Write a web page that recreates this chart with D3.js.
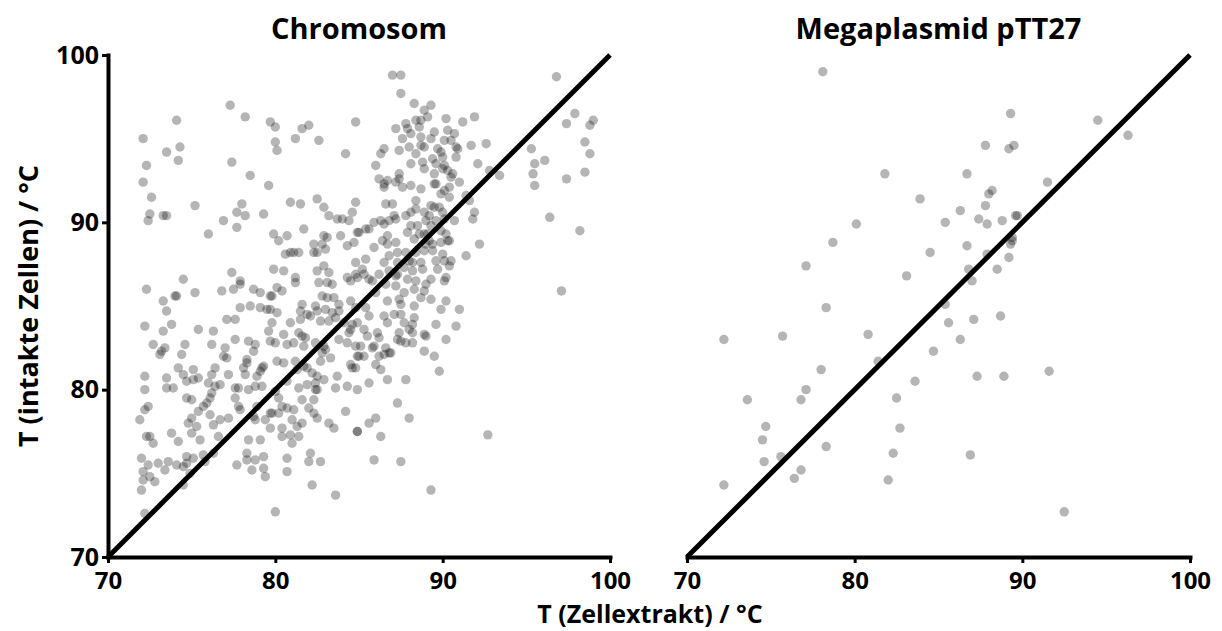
<!DOCTYPE html>
<html>
<head>
<meta charset="utf-8">
<script src="https://cdn.jsdelivr.net/npm/d3@7"></script>
<style>
  body { margin: 0; background: #fff; }
  text { font-family: "Open Sans", "DejaVu Sans", sans-serif; font-weight: 700; fill: #000; }
</style>
</head>
<body>
<svg width="1222" height="631"></svg>
<script>
(function (d3) {

  // values: [T Zellextrakt, T intakte Zellen]
  const chromosom = [
    [77.3,97.0],[74.1,96.1],[78.2,96.3],[79.7,96.0],[80.0,95.7],[81.6,95.6],[82.0,95.8],[84.8,96.0],[72.1,95.0],[74.3,94.5],
    [73.5,94.2],[74.2,93.7],[80.0,94.8],[80.1,94.3],[81.2,95.0],[82.6,94.9],[84.2,94.1],[72.3,93.4],[77.4,93.6],[72.1,92.4],
    [78.5,92.8],[79.6,92.2],[72.6,91.5],[75.2,91.0],[72.5,90.5],[72.4,90.1],[73.3,90.4],[73.5,90.4],[78.0,91.1],[77.7,90.6],
    [78.2,90.4],[79.3,90.5],[76.9,90.1],[77.7,89.7],[76.0,89.3],[80.9,91.2],[81.5,91.1],[82.5,91.4],[82.9,90.9],[83.2,90.4],
    [83.7,90.2],[84.0,90.2],[84.4,90.1],[84.6,90.6],[84.8,91.2],[81.7,89.6],[79.9,89.3],[80.2,88.9],[80.7,89.2],[82.9,89.2],
    [83.1,89.1],[83.9,89.2],[84.9,89.4],[82.3,88.7],[82.8,88.7],[84.7,88.8],[84.3,88.6],[80.6,88.1],[80.9,88.2],[81.1,88.2],
    [81.4,88.2],[82.3,88.2],[82.5,88.2],[83.0,88.4],[84.8,87.6],[79.9,87.2],[80.5,87.1],[82.5,87.1],[82.9,87.4],[83.2,87.0],
    [81.2,86.7],[81.2,86.4],[82.6,86.4],[83.1,86.4],[83.4,86.3],[84.3,86.7],[84.5,86.5],[84.8,86.9],[84.9,86.7],[74.5,86.6],
    [77.4,87.0],[77.9,86.5],[77.9,86.3],[72.3,86.0],[73.3,85.3],[74.0,85.6],[74.1,85.6],[75.2,85.8],[76.8,85.9],[77.5,86.0],
    [78.7,86.0],[79.1,85.8],[79.7,85.6],[79.8,85.6],[80.1,86.1],[80.4,85.9],[82.8,85.6],[83.1,85.5],[83.5,85.5],[84.5,85.3],
    [87.0,98.8],[87.5,98.8],[96.8,98.7],[87.5,97.7],[88.3,97.1],[89.3,97.0],[88.9,96.7],[89.1,96.3],[88.7,96.1],[88.4,96.1],
    [87.8,95.9],[87.9,95.6],[87.2,95.6],[88.6,95.7],[89.5,95.4],[90.2,96.2],[91.2,96.0],[91.9,96.3],[88.1,95.3],[87.6,95.0],
    [88.7,95.1],[89.3,95.0],[90.3,95.5],[90.7,95.3],[90.1,94.9],[90.5,94.9],[86.5,94.4],[86.3,94.1],[87.4,94.3],[88.0,94.5],
    [88.7,94.6],[88.9,94.5],[88.4,94.1],[89.7,94.4],[89.9,94.2],[90.8,94.5],[90.9,94.4],[91.7,94.6],[92.6,94.7],[95.3,94.4],
    [98.5,94.8],[97.4,95.9],[97.9,96.5],[99.0,96.1],[98.8,95.8],[98.8,94.1],[96.1,93.7],[95.5,93.5],[95.4,92.9],[95.5,92.2],
    [97.4,92.6],[98.5,93.0],[96.4,90.3],[98.2,89.5],[97.1,85.9],[86.0,93.4],[89.4,93.8],[88.8,93.6],[89.6,93.5],[90.0,93.9],
    [90.8,93.9],[88.1,93.5],[90.1,93.4],[90.0,93.2],[88.9,93.2],[89.5,92.9],[90.3,93.1],[90.6,92.9],[90.5,92.7],[92.1,93.5],
    [92.8,93.1],[93.4,92.8],[91.0,92.4],[86.2,92.6],[86.7,92.5],[87.4,92.9],[87.4,92.6],[87.2,92.4],[86.5,92.3],[86.5,92.1],
    [87.6,92.1],[88.1,92.2],[88.7,92.0],[89.5,92.3],[89.6,92.3],[90.1,91.9],[90.4,92.1],[89.9,91.7],[90.4,91.5],[91.4,91.6],
    [91.6,91.3],[86.6,91.1],[87.0,91.1],[88.4,91.3],[89.3,91.0],[89.5,90.9],[89.8,90.9],[88.4,90.8],[88.1,90.6],[88.9,90.6],
    [89.2,90.4],[90.0,90.6],[90.1,90.2],[91.9,90.6],[91.8,90.2],[90.7,90.1],[87.1,90.4],[87.2,90.2],[86.5,89.9],[86.8,90.1],
    [86.3,90.1],[85.9,90.0],[85.4,89.6],[85.0,89.4],[85.6,89.6],[87.8,90.4],[88.1,89.8],[88.5,89.8],[89.0,90.1],[89.6,90.1],
    [89.3,89.8],[87.9,89.4],[88.6,89.3],[88.9,89.3],[89.1,89.3],[88.3,89.0],[90.2,89.3],[89.9,89.5],[90.3,88.9],[90.4,88.9],
    [89.9,88.8],[89.2,88.9],[89.4,88.7],[89.0,88.7],[92.2,88.7],[91.4,88.0],[85.9,88.5],[86.4,88.9],[86.7,89.2],[86.7,88.7],
    [87.2,88.8],[87.3,88.2],[86.8,88.0],[87.8,88.2],[88.4,88.2],[88.9,88.3],[89.4,88.3],[90.0,88.1],[85.4,87.8],[86.5,87.6],
    [87.3,87.6],[88.0,87.7],[88.2,87.6],[88.7,87.6],[89.6,87.7],[90.1,87.7],[90.5,87.7],[90.4,87.4],[89.7,87.2],[88.8,87.2],
    [88.2,87.1],[87.7,87.3],[86.8,87.1],[86.2,86.9],[85.2,87.2],[85.3,86.9],[85.6,86.6],[85.8,86.5],[87.3,86.9],[87.2,86.8],
    [87.9,86.6],[88.4,86.5],[89.3,86.6],[90.1,86.5],[90.2,86.7],[89.0,86.3],[87.2,86.2],[86.6,86.3],[86.0,85.8],[87.7,85.8],
    [88.3,86.0],[88.9,85.9],[88.7,85.5],[89.3,85.4],[90.2,85.3],[86.7,85.3],[87.4,85.4],
    [85.4,84.9],[85.6,84.4],[87.5,85.1],[88.3,85.0],[89.9,84.8],[91.0,84.8],[86.5,84.4],[87.1,84.5],[87.5,84.5],[88.3,84.3],
    [86.7,84.0],[84.9,84.0],[87.7,84.0],[88.2,83.9],[89.6,83.9],[90.8,83.8],[85.3,83.6],[86.1,83.4],[87.4,83.4],[88.2,83.4],
    [88.0,83.6],[88.9,83.3],[89.0,83.2],[85.5,83.2],[86.2,83.1],[87.3,83.0],[87.5,82.9],[87.8,82.8],[88.2,82.8],[90.2,83.0],
    [85.1,82.6],[85.8,82.5],[85.9,82.6],[86.6,82.5],[86.8,82.2],[86.9,82.2],[88.9,82.3],[89.5,82.0],[85.3,82.0],[85.0,82.0],
    [86.2,82.0],[86.5,82.1],[84.8,81.3],[86.0,81.5],[86.3,81.2],[89.8,81.1],[86.7,80.6],[87.8,80.6],[85.6,80.4],[84.9,80.0],
    [87.3,79.2],[86.0,78.3],[88.0,78.3],[85.6,78.0],[84.9,77.5],[86.3,77.2],[92.7,77.3],[85.9,75.8],[87.5,75.7],[89.3,74.0],
    [73.5,84.7],[77.9,84.9],[78.5,85.0],[79.1,84.9],[79.5,84.8],[79.7,84.8],[80.1,84.6],[81.6,85.1],[82.4,85.0],[81.5,84.7],
    [81.9,84.5],[82.1,84.4],[82.5,84.7],[83.0,84.8],[83.4,84.6],[83.8,85.1],[83.8,84.7],[84.8,84.9],[72.2,83.8],[73.3,83.5],
    [73.8,83.9],[75.4,83.6],[76.3,83.5],[77.1,84.2],[77.6,84.2],[79.8,84.0],[79.6,83.5],[80.9,84.0],[81.5,84.2],[82.7,84.1],
    [83.2,84.1],[83.6,84.3],[84.1,84.0],[84.6,83.9],[72.7,82.7],[73.4,82.5],[73.2,82.3],[73.1,82.1],[74.6,82.7],[74.4,82.1],
    [76.2,82.7],[77.0,82.5],[76.9,82.0],[77.1,81.9],[77.6,83.0],[78.4,82.9],[78.8,82.7],[78.7,82.3],[79.7,82.9],[80.0,82.8],
    [80.5,83.3],[80.7,82.7],[81.1,82.8],[81.4,83.4],[81.6,83.2],[81.8,83.1],[81.7,82.6],[82.4,82.8],[82.9,82.6],[83.0,82.4],
    [82.8,82.2],[83.8,83.0],[84.3,82.8],[84.8,82.6],[84.4,83.4],[84.5,83.6],[78.3,81.8],[78.3,81.6],[78.1,81.3],[78.2,80.9],
    [79.3,81.4],[79.2,81.3],[80.1,81.7],[80.5,81.6],[81.2,81.7],[81.7,81.4],[81.9,81.3],[81.3,81.2],[82.2,81.0],[82.5,80.8],
    [82.9,80.6],[82.7,81.7],[83.3,81.9],[83.7,80.8],[84.5,81.5],[84.6,81.3],[84.9,82.0],[72.2,80.8],[72.2,80.0],[73.5,80.7],
    [73.5,80.1],[73.9,80.1],[74.2,81.3],[74.5,80.9],[74.7,80.5],[75.1,81.2],[75.1,80.6],[75.4,80.7],[76.2,80.9],[76.4,81.3],
    [76.0,80.4],[76.4,80.2],[76.7,80.3],[77.2,80.9],[77.6,80.1],[77.8,80.1],[78.4,80.0],[78.8,80.2],[79.2,80.2],[78.9,80.8],
    [79.1,81.1],[80.0,79.9],[80.2,79.5],[80.7,80.5],[81.4,80.1],[81.9,80.3],[82.4,80.4],[82.5,80.0],[82.4,80.0],[82.3,79.4],
    [83.6,80.1],[84.3,80.2],[74.7,79.5],[75.0,79.4],[75.7,79.0],[75.9,79.2],[76.1,79.5],[76.2,79.8],[75.4,78.7],[76.1,78.5],
    [75.0,78.3],[74.8,78.0],[75.3,77.8],[76.3,77.9],[76.7,78.2],[77.2,78.3],[77.6,79.5],[77.9,78.8],[77.8,79.0],[78.7,78.4],
    [78.8,78.2],[78.9,79.0],[79.4,78.2],[79.7,78.6],[79.8,78.6],[80.2,78.6],[80.4,79.0],[80.7,78.9],[81.1,78.8],[81.6,79.4],
    [82.0,78.9],[82.3,78.6],[82.5,78.3],[81.0,78.2],[81.6,78.0],[81.3,77.8],[80.4,77.7],[80.4,77.2],[80.9,77.3],[81.4,77.2],
    [81.0,76.8],[79.7,77.7],[83.2,78.0],[83.5,77.7],[84.2,78.7],[84.9,77.5],[71.9,78.2],[72.2,78.8],[72.4,79.0],[72.3,77.2],
    [72.5,77.2],[72.7,76.8],[73.8,77.4],[74.2,76.9],[75.0,77.4],[75.5,77.0],[76.6,77.2],[78.4,77.0],[79.1,77.0],[72.0,75.9],
    [72.4,75.5],[73.0,75.6],[73.4,75.2],[73.6,75.7],[74.1,75.5],[74.5,75.4],[74.7,75.6],[74.7,76.0],[75.1,75.9],[75.7,76.1],
    [75.8,75.7],[76.3,76.2],[72.1,75.1],[72.5,74.8],[72.8,74.5],[72.1,74.6],[72.0,74.0],[74.5,74.3],[74.9,75.0],[77.7,75.5],
    [78.3,76.2],[78.3,75.8],[78.8,75.8],[79.3,76.0],[78.6,75.2],[79.3,75.3],[79.4,74.8],[80.7,75.9],[80.7,75.1],[82.1,76.2],
    [82.0,75.7],[82.7,75.7],[82.2,74.3],[83.6,73.7],[80.0,72.7],[72.2,72.6]
  ];

  const megaplasmid = [
    [78.1,99.0],[81.8,92.9],[83.9,91.4],[80.1,89.9],[78.7,88.8],[77.1,87.4],[84.5,88.2],[83.1,86.8],[78.3,84.9],
    [89.3,96.5],[94.5,96.1],[96.3,95.2],[87.8,94.6],[89.5,94.6],[89.2,94.4],[86.7,92.9],[91.5,92.4],[88.2,91.9],[88.0,91.7],
    [87.8,91.0],[86.3,90.7],[85.4,90.0],[87.4,90.2],[87.9,89.9],[88.8,90.1],[89.6,90.4],[89.7,90.4],[86.7,88.6],[89.4,89.1],
    [89.4,88.9],[89.3,88.7],[87.9,88.1],[89.2,87.9],[86.8,87.2],[88.5,87.2],[87.0,86.5],[85.4,85.1],
    [72.2,83.0],[75.7,83.2],[80.8,83.3],[84.7,82.3],[81.4,81.7],[78.0,81.2],[83.6,80.5],[77.1,80.0],[76.8,79.4],[73.6,79.4],
    [82.5,79.5],[74.7,77.8],[82.7,77.7],[74.5,77.0],[78.3,76.6],[75.6,76.0],[74.6,75.7],[82.3,76.2],[76.8,75.2],[76.4,74.7],
    [82.0,74.6],[72.2,74.3],
    [85.6,84.0],[87.1,84.2],[88.7,84.4],[86.3,83.0],[87.3,80.8],[88.9,80.8],[91.6,81.1],[86.9,76.1],[92.5,72.7]
  ];

  const domainT = [70, 100];
  const tickValues = [70, 80, 90, 100];
  const identityLine = [[70, 70], [100, 100]];
  const panelTitles = ['Chromosom', 'Megaplasmid pTT27'];
  const xAxisLabel = 'T (Zellextrakt) / °C';
  const yAxisLabel = 'T (intakte Zellen) / °C';

  const svg = d3.select('svg');
  const top = 55, bottom = 557;

  const yScale = d3.scaleLinear().domain(domainT).range([bottom, top]);

  const panel = (selection, props) => {
    const { data, title, left, right, showY } = props;

    const xScale = d3.scaleLinear().domain(domainT).range([left, right]);
    const g = selection.append('g');

    g.append('g').selectAll('circle').data(data)
      .enter().append('circle')
        .attr('cx', d => xScale(d[0]))
        .attr('cy', d => yScale(d[1]))
        .attr('r', 4.7)
        .attr('fill', '#000')
        .attr('fill-opacity', 0.29);

    const line = d3.line()
      .x(d => xScale(d[0]))
      .y(d => yScale(d[1]));

    g.append('path')
      .attr('d', line(identityLine))
      .attr('fill', 'none')
      .attr('stroke', '#000')
      .attr('stroke-width', 5);

    const xAxis = d3.axisBottom(xScale)
      .tickValues(tickValues)
      .tickSize(6)
      .tickSizeOuter(0)
      .tickPadding(9);

    const xAxisG = g.append('g')
      .attr('transform', `translate(0,${bottom})`)
      .call(xAxis);
    xAxisG.select('.domain').attr('stroke-width', 4).attr('stroke-linecap', 'square');
    xAxisG.selectAll('.tick line').attr('stroke-width', 3);
    xAxisG.selectAll('.tick text')
      .attr('font-family', null)
      .style('font-size', '24px');

    if (showY) {
      const yAxis = d3.axisLeft(yScale)
        .tickValues(tickValues)
        .tickSize(6)
        .tickSizeOuter(0)
        .tickPadding(3);
      const yAxisG = g.append('g')
        .attr('transform', `translate(${left},0)`)
        .call(yAxis);
      yAxisG.select('.domain').attr('stroke-width', 4).attr('stroke-linecap', 'square');
      yAxisG.selectAll('.tick line').attr('stroke-width', 3);
      yAxisG.selectAll('.tick text')
        .attr('font-family', null)
        .style('font-size', '25px');
    }

    g.append('text')
      .attr('x', (left + right) / 2)
      .attr('y', 39)
      .attr('text-anchor', 'middle')
      .style('font-size', '29px')
      .text(title);
  };

  svg.call(panel, { data: chromosom, title: panelTitles[0], left: 108, right: 610, showY: true });
  svg.call(panel, { data: megaplasmid, title: panelTitles[1], left: 687, right: 1190, showY: false });

  svg.append('text')
    .attr('x', 650)
    .attr('y', 623)
    .attr('text-anchor', 'middle')
    .style('font-size', '25px')
    .text(xAxisLabel);

  svg.append('text')
    .attr('transform', `translate(38,${(top + bottom) / 2}) rotate(-90)`)
    .attr('text-anchor', 'middle')
    .style('font-size', '27px')
    .text(yAxisLabel);

}(d3));
</script>
</body>
</html>
